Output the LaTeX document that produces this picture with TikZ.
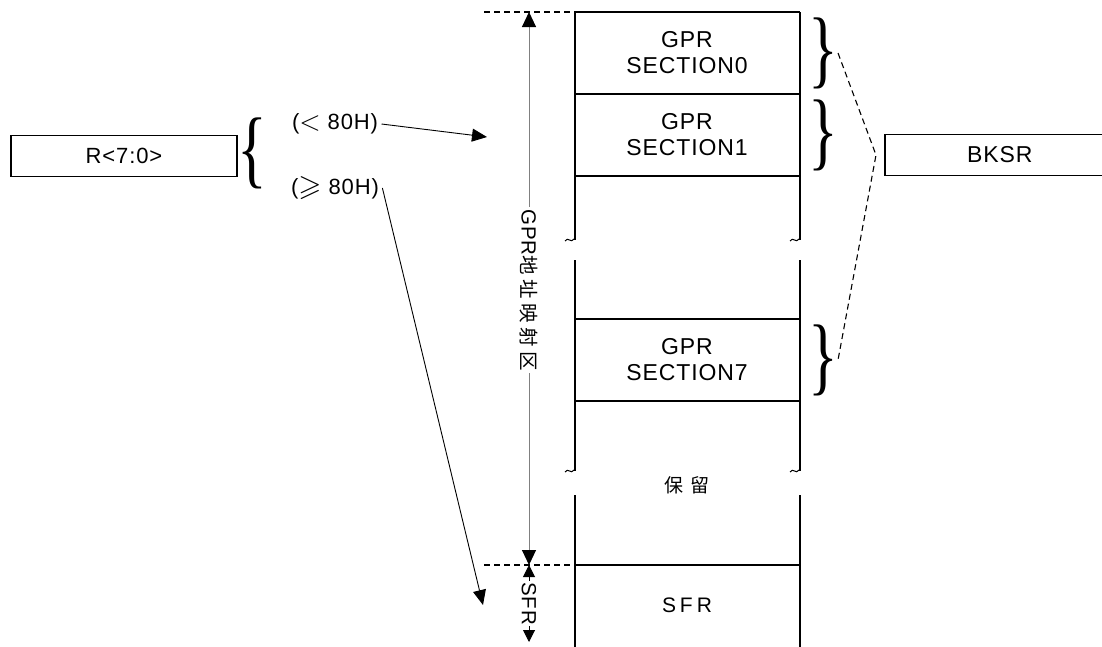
\documentclass[tikz,border=0pt]{standalone}
\usepackage{amssymb}
\usepackage{fontspec}
\setmainfont{Liberation Sans}[LetterSpace=4]
\newfontfamily\midsans{Liberation Sans}[LetterSpace=19]
\newfontfamily\cjk{Noto Sans CJK SC}[LetterSpace=23]
\newfontfamily\cjkwide{Noto Sans CJK SC}[LetterSpace=40]
\newfontfamily\bracefont{Liberation Serif}
\newcommand{\bigrel}[1]{\raisebox{-1pt}{\scalebox{1.35}{$#1$}}}
\usetikzlibrary{arrows.meta}

\tikzset{
  cell/.style={align=center, font=\fontsize{23}{26}\selectfont},
  small/.style={font=\fontsize{22}{24}\selectfont},
  regbox/.style={draw, line width=1.6pt, minimum height=41pt},
  wall/.style={line width=1.8pt},
  guide/.style={line width=1.1pt, dash pattern=on 6pt off 4pt},
  ptr/.style={-{Triangle[length=15pt,width=13pt]}, line width=0.9pt},
  curly/.style={inner sep=0pt, xscale=0.72, font=\bracefont\fontsize{86}{86}\selectfont},
}

\begin{document}
\begin{tikzpicture}[x=1pt,y=-1pt]
  \clip (0,0) rectangle (1102,646);
  \fill[white] (0,0) rectangle (1102,646);

  % register and its two ranges
  \node[regbox, small, minimum width=226pt] (reg) at (124,156) {R<7:0>};
  \node[curly] (lbr) at (252,153) {\{};
  \node[small] (lt) at (335,124) {(\bigrel{<} 80H)};
  \node[small] (ge) at (335,188) {(\bigrel{\geqslant} 80H)};
  \coordinate (in1) at (487,137);
  \coordinate (in2) at (483,605);
  \draw[ptr] (lt.east) -- (in1);
  \draw[ptr] (ge.east) -- (in2);

  % memory column
  \foreach \y in {12,94,176,319,401,565}
    \draw[wall] (575,\y) -- (800,\y);
  \foreach \x in {575,800} {
    \draw[wall] (\x,12) -- (\x,240);
    \draw[wall] (\x,260) -- (\x,471);
    \draw[wall] (\x,495) -- (\x,650);
    \foreach \y in {240,471}
      \draw[line width=1pt] (\x-10,\y+1) .. controls (\x-7,\y-4) and (\x-4,\y+4) .. (\x-1,\y-1);
  }
  \node[cell] (sec0) at (687,53) {GPR\\SECTION0};
  \node[cell] (sec1) at (687,135) {GPR\\SECTION1};
  \node[cell] (sec7) at (687,360) {GPR\\SECTION7};
  \node[font=\cjkwide\fontsize{19}{22}\selectfont] (rsvd) at (687,485) {保留};
  \node[font=\midsans\fontsize{21}{24}\selectfont] (sfr) at (687,605) {SFR};

  % address ranges
  \draw[guide] (484,12) -- (575,12);
  \draw[guide] (484,565) -- (575,565);
  \coordinate (gtop) at (529,12);
  \coordinate (gbot) at (529,565);
  \coordinate (sbot) at (529,642);
  \draw[gray, line width=1pt, {Triangle[black,length=15pt,width=14pt]}-{Triangle[black,length=15pt,width=14pt]}]
    (gtop) -- (gbot) node[pos=0.503, fill=white, inner sep=2pt, rotate=-90, text=black,
    font=\fontsize{20.5}{24}\selectfont] (gpr) {GPR{\cjk\fontsize{19.5}{22}\selectfont 地址映射区}};
  \draw[line width=1pt, {Triangle[length=12pt,width=12pt]}-{Triangle[length=12pt,width=12pt]}]
    (gbot) -- (sbot) node[midway, fill=white, inner sep=1pt, rotate=-90,
    font=\fontsize{20.5}{24}\selectfont] (sfrlbl) {SFR};

  % bank select
  \node[curly] (br0) at (823,53) {\}};
  \node[curly] (br1) at (823,135) {\}};
  \node[curly] (br7) at (823,360) {\}};
  \node[regbox, cell, minimum width=230pt, anchor=west] (bksr) at (884,155) {BKSR};
  \coordinate (bk) at (876,155);
  \draw[guide] (br0.east) -- (bk) -- (br7.east);
\end{tikzpicture}
\end{document}
